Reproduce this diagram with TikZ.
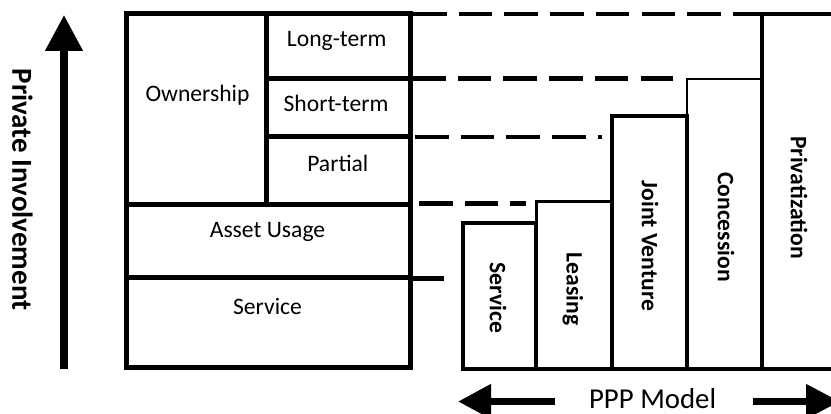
\documentclass[tikz,border=0pt]{standalone}
\usepackage{fontspec}
\setmainfont{Carlito}
\usetikzlibrary{arrows.meta}

\begin{document}
\begin{tikzpicture}[x=1pt,y=-1pt,
  frame/.style={line width=5pt},
  lbl/.style={font=\fontsize{23.6}{28}\selectfont, inner sep=0pt, anchor=base},
  vlbl/.style={font=\bfseries\fontsize{23.6}{28}\selectfont, inner sep=0pt, rotate=-90},
  level/.style={line width=4.5pt, dash pattern=on 33.5pt off 12.2pt},
  bigarrow/.style={line width=7.5pt},
]
\clip (0,0) rectangle (831,414);
\fill[white] (0,0) rectangle (831,414);

% ---- left block: forms of private participation ----
\coordinate (blkNW) at (126,14);
\coordinate (blkSE) at (410,368);
\draw[frame] (blkNW) rectangle (blkSE);
\draw[frame] (266,14) -- (266,205);
\draw[frame] (266,78.5) -- (410,78.5);
\draw[frame] (266,136.5) -- (410,136.5);
\draw[frame] (126,205) -- (410,205);
\draw[frame] (126,278) -- (410,278);

\node[lbl] (own)   at (197.5,101.7) {Ownership};
\node[lbl] (long)  at (336.7,46.7)  {Long-term};
\node[lbl] (short) at (336.0,111.7) {Short-term};
\node[lbl] (part)  at (337.8,171.7) {Partial};
\node[lbl] (asset) at (267.5,237.7) {Asset Usage};
\node[lbl] (serv)  at (267.5,314.3) {Service};

% ---- right block: PPP models as a staircase ----
\draw[line width=2.3pt] (687,369) |- (762,79);
\draw[line width=3pt]   (536,369) |- (612,202);
\draw[line width=3.5pt] (612,369) rectangle (687,116);
\draw[line width=4pt]   (463,369) rectangle (536,223);
\draw[line width=4.3pt] (762,369) |- (850,14);
\draw[line width=3.3pt] (463,369) -- (850,369);

\node[vlbl] (mServ) at (498,298)   {Service};
\node[vlbl] (mLeas) at (573,289)   {Leasing};
\node[vlbl] (mJV)   at (650,246)   {Joint Venture};
\node[vlbl] (mConc) at (726,227)   {Concession};
\node[vlbl] (mPriv) at (799,197.5) {Privatization};

% ---- level guides linking both blocks ----
\coordinate (g1a) at (413,14);    \coordinate (g1b) at (762,14);
\coordinate (g2a) at (412,78.5);  \coordinate (g2b) at (673,78.5);
\coordinate (g3a) at (415,137);   \coordinate (g3b) at (602,137);
\coordinate (g4a) at (419,203.3); \coordinate (g4b) at (526,203.3);
\coordinate (g5a) at (410,278.3); \coordinate (g5b) at (444,278.3);
\draw[level] (g1a) -- (g1b);
\draw[level] (g2a) -- (g2b);
\draw[level] (g3a) -- (g3b);
\draw[level] (g4a) -- (g4b);
\draw[line width=4.5pt] (g5a) -- (g5b);

% ---- axes ----
\coordinate (upFoot) at (64,369);
\coordinate (upTip)  at (64,15);
\draw[bigarrow, -{Triangle[width=36pt,length=36pt]}] (upFoot) -- (upTip);
\node[vlbl, font=\bfseries\fontsize{29}{34}\selectfont] (axisY) at (22.5,189.5) {Private Involvement};

\node[font=\fontsize{28.8}{34}\selectfont, inner sep=0pt, anchor=base] (axisX) at (652.6,409) {PPP Model};
\coordinate (lFoot) at (555,401.5);
\coordinate (lTip)  at (458,401.5);
\coordinate (rFoot) at (753,401.5);
\coordinate (rTip)  at (840,401.5);
\draw[bigarrow, -{Triangle[width=33pt,length=33pt]}] (lFoot) -- (lTip);
\draw[bigarrow, -{Triangle[width=33pt,length=34pt]}] (rFoot) -- (rTip);
\end{tikzpicture}
\end{document}
